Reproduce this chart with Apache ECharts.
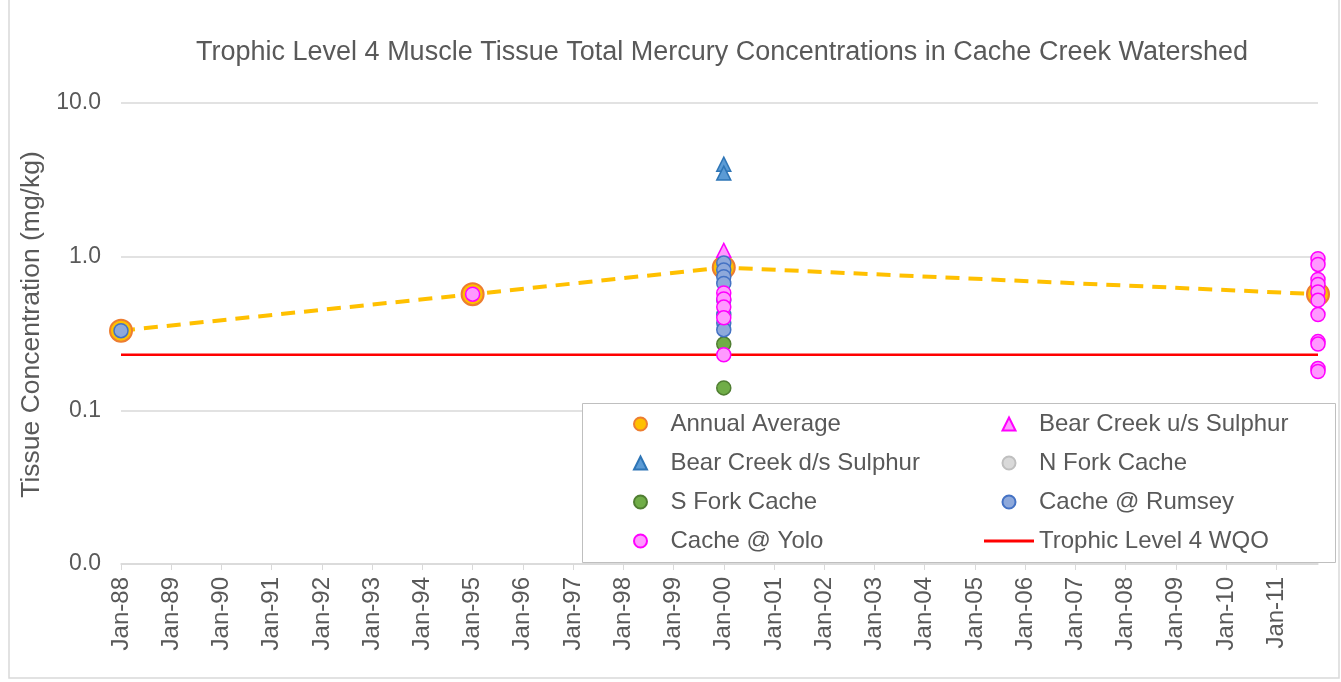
<!DOCTYPE html>
<html>
<head>
<meta charset="utf-8">
<script src="https://cdn.jsdelivr.net/npm/echarts@6/dist/echarts.min.js"></script>
<style>
  html, body { margin: 0; padding: 0; background: #fff; }
  #main { width: 1341px; height: 682px; }
</style>
</head>
<body>
<div id="main"></div>
<script>
// x positions are in years (1988.0 = Jan-88); one tick label per January
var tickYears = [];
for (var y = 1988; y <= 2011; y++) tickYears.push(y);

var axisMin = 1988;
var axisMax = 2011.83;

// annual average (dashed line)
var avgYears = [1988, 1995, 2000, 2011.83];
var avgValues = [0.33, 0.57, 0.85, 0.57];

var bearDsYears = [2000, 2000];
var bearDsValues = [4.0, 3.5];

var bearUsYears = [2000];
var bearUsValues = [1.1];

var nForkYears = [];
var nForkValues = [];

var sForkYears = [2000, 2000];
var sForkValues = [0.27, 0.14];

var rumseyYears = [1988, 2000, 2000, 2000, 2000, 2000, 2000, 2000, 2000];
var rumseyValues = [0.33, 0.91, 0.82, 0.74, 0.67, 0.52, 0.42, 0.37, 0.335];

var yoloYears = [1995, 2000, 2000, 2000, 2000, 2000,
                 2011.83, 2011.83, 2011.83, 2011.83, 2011.83, 2011.83,
                 2011.83, 2011.83, 2011.83, 2011.83, 2011.83];
var yoloValues = [0.57, 0.58, 0.53, 0.47, 0.40, 0.23,
                  0.97, 0.89, 0.71, 0.66, 0.59, 0.52, 0.42, 0.28, 0.27, 0.187, 0.179];

var wqoYears = [1988, 2011.83];
var wqoValues = [0.23, 0.23];

function zip(x, v) {
    return x.map(function (d, i) { return [d, v[i]]; });
}

var chart = echarts.init(document.getElementById('main'));

var textColor = '#595959';
var font = 'Liberation Sans, Arial, sans-serif';

// legend icons that keep their own shape inside the wide legend slot
var triIcon = 'path://M5,0L10,10L0,10Z';
var barIcon = 'path://M0,0L50,0L50,3L0,3Z';

function dotStyle(fill, border) {
    return { color: fill, borderColor: border, borderWidth: 1.5, opacity: 1 };
}

var legendText = { fontSize: 24, color: textColor, lineHeight: 26, fontFamily: font };

chart.setOption({
    animation: false,
    textStyle: { fontFamily: font },
    title: {
        text: 'Trophic Level 4 Muscle Tissue Total Mercury Concentrations in Cache Creek Watershed',
        left: 717,
        top: 34,
        textAlign: 'center',
        textStyle: { fontSize: 27, fontWeight: 'normal', color: textColor, fontFamily: font }
    },
    graphic: [
        {
            type: 'rect',
            z: -10,
            shape: { x: 9, y: -1, width: 1330, height: 679 },
            style: { fill: 'none', stroke: '#D9D9D9', lineWidth: 1.5 }
        },
        {
            type: 'rect',
            z: 10,
            shape: { x: 582.5, y: 403.5, width: 753, height: 159 },
            style: { fill: '#fff', stroke: '#BFBFBF', lineWidth: 1 }
        }
    ],
    legend: [
        {
            z: 20,
            orient: 'vertical',
            left: 628,
            top: 406,
            itemWidth: 50,
            itemHeight: 13,
            itemGap: 13,
            textStyle: legendText,
            data: [
                { name: 'Annual Average', icon: 'circle' },
                { name: 'Bear Creek d/s Sulphur', icon: triIcon },
                'S Fork Cache',
                'Cache @ Yolo'
            ]
        },
        {
            z: 20,
            orient: 'vertical',
            left: 979,
            top: 406,
            itemWidth: 50,
            itemHeight: 13,
            itemGap: 13,
            textStyle: legendText,
            data: [
                { name: 'Bear Creek u/s Sulphur', icon: triIcon },
                'N Fork Cache',
                'Cache @ Rumsey',
                { name: 'Trophic Level 4 WQO', icon: barIcon }
            ]
        }
    ],
    grid: { left: 121, right: 23, top: 103, bottom: 118 },
    xAxis: {
        type: 'value',
        min: axisMin,
        max: axisMax,
        splitLine: { show: false },
        axisLine: { show: true, lineStyle: { color: '#D9D9D9', width: 1.5 } },
        axisTick: { show: true, length: 6, lineStyle: { color: '#D9D9D9' }, customValues: tickYears },
        axisLabel: {
            rotate: 90,
            margin: 13,
            fontSize: 24,
            color: textColor,
            fontFamily: font,
            customValues: tickYears,
            formatter: function (val) {
                return 'Jan-' + String(Math.round(val)).slice(2);
            }
        }
    },
    yAxis: {
        type: 'log',
        logBase: 10,
        min: 0.01,
        max: 10,
        name: 'Tissue Concentration (mg/kg)',
        nameLocation: 'middle',
        nameGap: 68,
        nameTextStyle: { fontSize: 26.5, color: textColor, fontFamily: font, padding: [0, 0, 0, 18] },
        axisLine: { show: false },
        axisTick: { show: false },
        splitLine: { lineStyle: { color: '#D9D9D9', width: 1.5 } },
        axisLabel: {
            margin: 20,
            fontSize: 23,
            color: textColor,
            fontFamily: font,
            formatter: function (v) { return v.toFixed(1); }
        }
    },
    series: [
        {
            name: 'Annual Average',
            type: 'line',
            z: 2,
            symbol: 'circle',
            symbolSize: 22,
            itemStyle: { color: '#FFC000', borderColor: '#ED7D31', borderWidth: 2 },
            lineStyle: { color: '#FFC000', width: 4, type: [14, 9] },
            data: zip(avgYears, avgValues)
        },
        {
            name: 'Trophic Level 4 WQO',
            type: 'line',
            z: 2,
            symbol: 'none',
            itemStyle: { color: '#FF0000' },
            lineStyle: { color: '#FF0000', width: 2.5 },
            data: zip(wqoYears, wqoValues)
        },
        {
            name: 'Bear Creek u/s Sulphur',
            type: 'scatter',
            z: 3,
            symbol: 'triangle',
            symbolSize: 14,
            itemStyle: dotStyle('#FF99FF', '#FF00FF'),
            data: zip(bearUsYears, bearUsValues)
        },
        {
            name: 'Bear Creek d/s Sulphur',
            type: 'scatter',
            z: 3,
            symbol: 'triangle',
            symbolSize: 14,
            itemStyle: dotStyle('#5B9BD5', '#2E75B6'),
            data: zip(bearDsYears, bearDsValues)
        },
        {
            name: 'N Fork Cache',
            type: 'scatter',
            z: 3,
            symbol: 'circle',
            symbolSize: 13,
            itemStyle: dotStyle('#D9D9D9', '#BFBFBF'),
            data: zip(nForkYears, nForkValues)
        },
        {
            name: 'S Fork Cache',
            type: 'scatter',
            z: 3,
            symbol: 'circle',
            symbolSize: 14,
            itemStyle: dotStyle('#70AD47', '#507E32'),
            data: zip(sForkYears, sForkValues)
        },
        {
            name: 'Cache @ Rumsey',
            type: 'scatter',
            z: 4,
            symbol: 'circle',
            symbolSize: 14,
            itemStyle: dotStyle('#8EA9DB', '#4472C4'),
            data: zip(rumseyYears, rumseyValues)
        },
        {
            name: 'Cache @ Yolo',
            type: 'scatter',
            z: 5,
            symbol: 'circle',
            symbolSize: 14,
            itemStyle: dotStyle('#FF99FF', '#FF00FF'),
            data: zip(yoloYears, yoloValues)
        }
    ]
});
</script>
</body>
</html>
